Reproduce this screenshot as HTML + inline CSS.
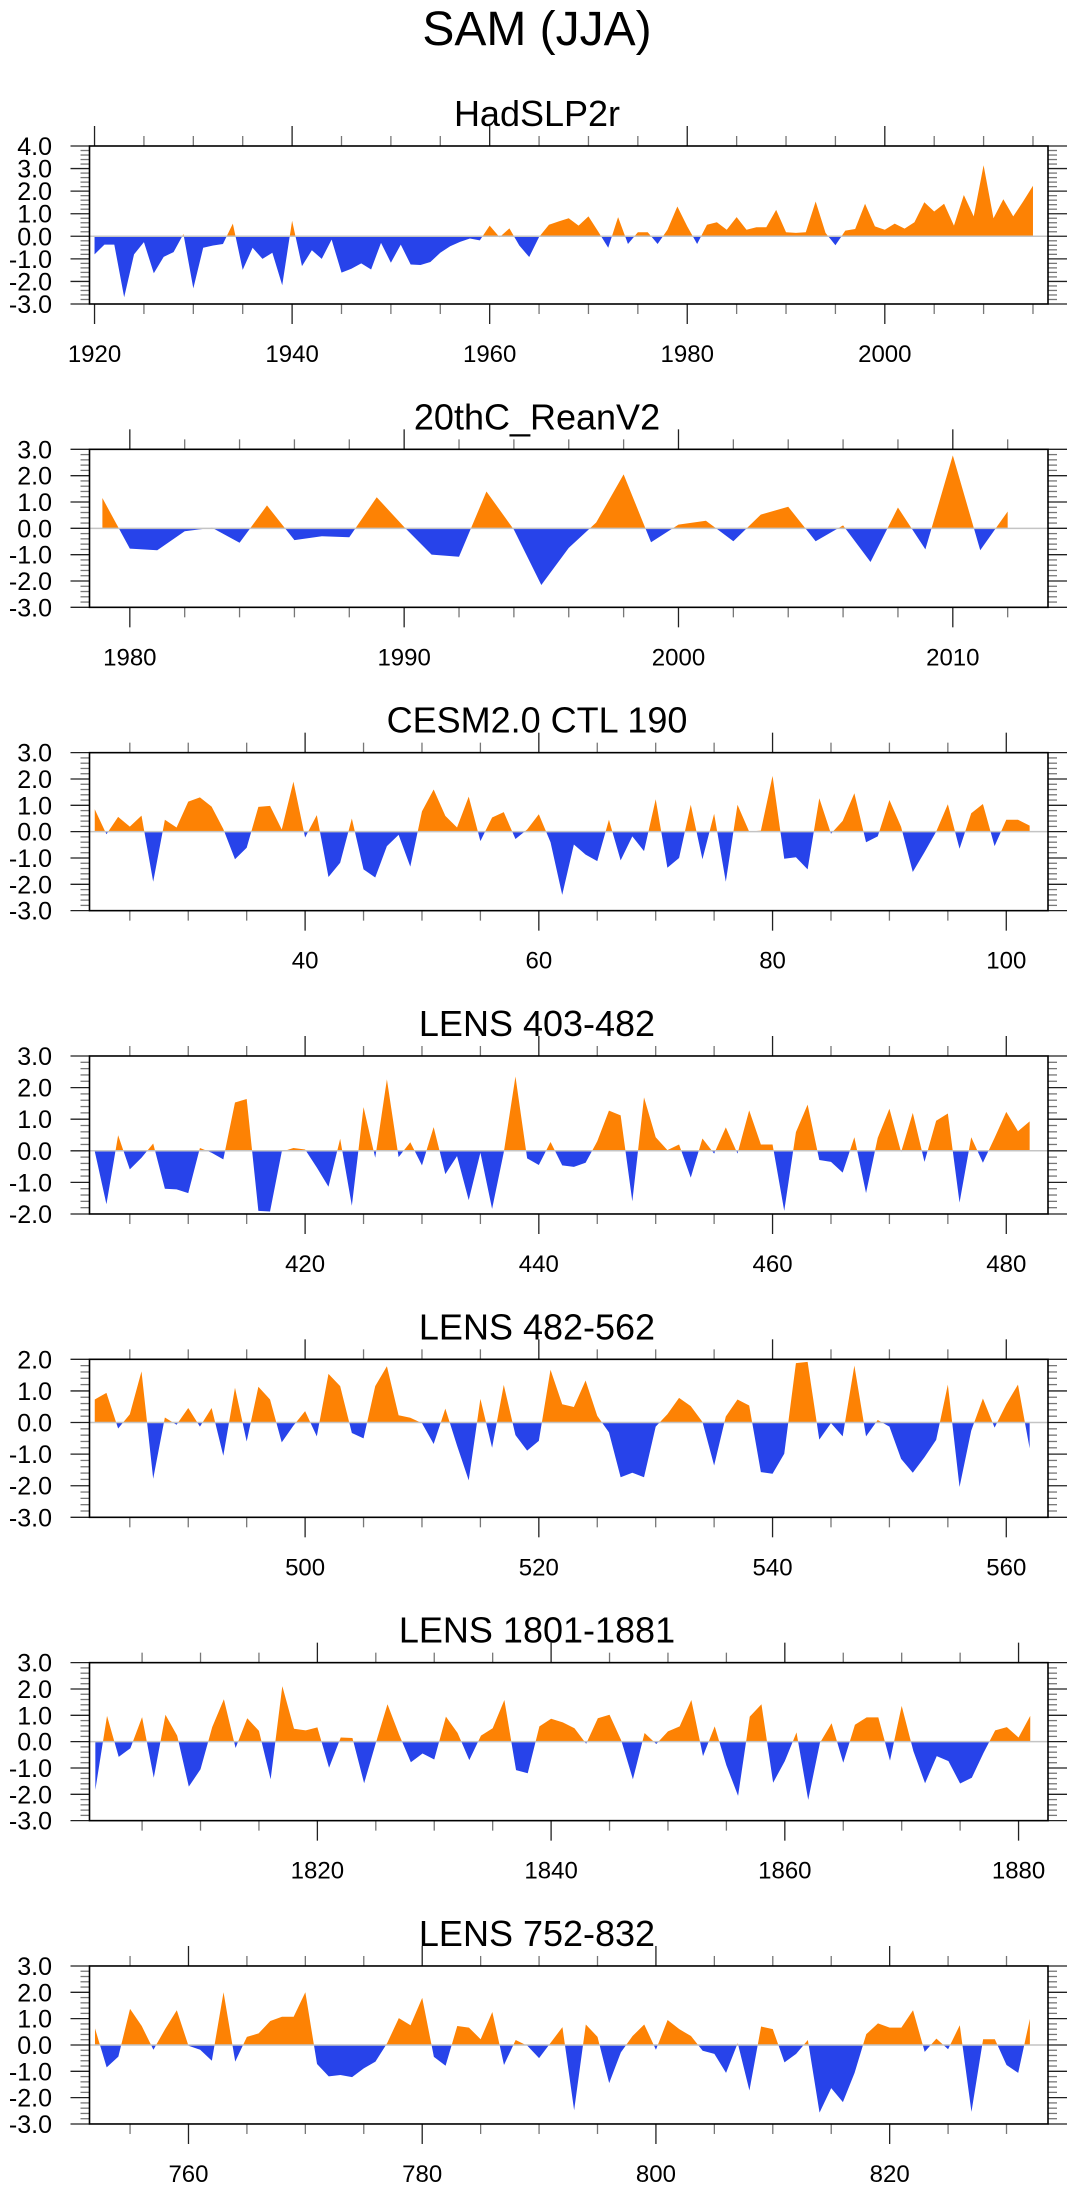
<!DOCTYPE html>
<html><head><meta charset="utf-8"><title>SAM (JJA)</title>
<style>
html,body{margin:0;padding:0;background:#fff;}
svg{display:block;font-family:"Liberation Sans",Arial,sans-serif;}
</style></head>
<body>
<svg id="chart" width="1075" height="2191" viewBox="0 0 1075 2191" xmlns="http://www.w3.org/2000/svg">
<text x="537" y="45" font-size="48" text-anchor="middle" fill="#000">SAM (JJA)</text>
</svg>
<script>
// ---- data ----
const panelTitles = ["HadSLP2r","20thC_ReanV2","CESM2.0 CTL 190","LENS 403-482","LENS 482-562","LENS 1801-1881","LENS 752-832"];
const startYears = [1920, 1979, 22, 402, 482, 1801, 752];
const xDomains = [[1919.49,2016.52],[1978.53,2013.47],[21.55,103.57],[401.55,483.57],[481.55,563.57],[1800.5,1882.52],[751.53,833.55]];
const yDomains = [[-3,4],[-3,3],[-3,3],[-2,3],[-3,2],[-3,3],[-3,3]];
const xMajorTicks = [[1920,1940,1960,1980,2000],[1980,1990,2000,2010],[40,60,80,100],[420,440,460,480],[500,520,540,560],[1820,1840,1860,1880],[760,780,800,820]];
const xMinorSteps = [5,2,5,5,5,5,5];

const hadslpValues = [-0.8,-0.37,-0.37,-2.7,-0.8,-0.26,-1.64,-0.91,-0.7,0.1,-2.31,-0.51,-0.41,-0.34,0.56,-1.49,-0.51,-1.0,-0.73,-2.17,
0.69,-1.32,-0.62,-1.0,-0.15,-1.61,-1.44,-1.2,-1.47,-0.29,-1.17,-0.37,-1.25,-1.27,-1.14,-0.73,-0.44,-0.25,-0.1,-0.18,
0.47,-0.04,0.35,-0.41,-0.92,-0.03,0.51,0.66,0.8,0.47,0.88,0.2,-0.51,0.85,-0.34,0.18,0.18,-0.34,0.29,1.32,
0.44,-0.34,0.51,0.62,0.29,0.85,0.29,0.4,0.4,1.17,0.18,0.15,0.18,1.54,0.15,-0.4,0.25,0.32,1.44,0.44,
0.29,0.56,0.34,0.62,1.51,1.1,1.44,0.47,1.83,0.88,3.15,0.8,1.64,0.88,1.54,2.24];
const reanValues = [1.15,-0.77,-0.83,-0.11,0.02,-0.55,0.87,-0.45,-0.3,-0.34,1.18,0.05,-1.0,-1.08,1.4,-0.05,-2.15,-0.74,0.22,2.05,
-0.53,0.14,0.29,-0.49,0.52,0.82,-0.49,0.11,-1.28,0.79,-0.8,2.77,-0.83,0.64];
const cesmValues = [0.85,-0.1,0.56,0.19,0.61,-1.9,0.45,0.16,1.14,1.3,0.95,0.1,-1.05,-0.61,0.94,0.98,0.08,1.9,-0.22,0.63,
-1.72,-1.18,0.5,-1.43,-1.74,-0.55,-0.12,-1.33,0.77,1.6,0.6,0.16,1.33,-0.36,0.54,0.74,-0.28,0.08,0.66,-0.4,
-2.4,-0.49,-0.87,-1.12,0.45,-1.09,-0.18,-0.74,1.23,-1.37,-1.0,1.02,-1.05,0.68,-1.9,1.02,0,0.04,2.12,-1.03,
-0.97,-1.43,1.27,-0.08,0.41,1.46,-0.4,-0.18,1.2,0.18,-1.53,-0.78,0,1.04,-0.65,0.7,1.05,-0.55,0.45,0.45,0.23];
const lens403Values = [-0.02,-1.69,0.49,-0.59,-0.22,0.23,-1.2,-1.22,-1.34,0.09,-0.06,-0.27,1.53,1.64,-1.9,-1.92,-0.03,0.09,0.04,-0.53,
-1.14,0.38,-1.74,1.38,-0.22,2.26,-0.2,0.27,-0.46,0.75,-0.74,-0.17,-1.56,-0.06,-1.84,-0.05,2.35,-0.24,-0.45,0.28,
-0.46,-0.51,-0.38,0.3,1.27,1.12,-1.6,1.69,0.43,0.02,0.2,-0.85,0.39,-0.09,0.74,-0.09,1.28,0.2,0.2,-1.9,
0.59,1.46,-0.29,-0.35,-0.69,0.43,-1.34,0.41,1.33,-0.04,1.2,-0.35,0.95,1.18,-1.64,0.43,-0.38,0.41,1.23,0.62,0.93];
const lens482Values = [0.73,0.94,-0.19,0.26,1.62,-1.78,0.16,-0.07,0.46,-0.13,0.46,-1.05,1.1,-0.6,1.13,0.73,-0.63,-0.1,0.36,-0.44,
1.54,1.15,-0.33,-0.5,1.15,1.78,0.23,0.15,-0.02,-0.68,0.44,-0.73,-1.83,0.75,-0.8,1.19,-0.4,-0.89,-0.58,1.67,
0.58,0.49,1.33,0.21,-0.31,-1.73,-1.59,-1.73,-0.13,0.26,0.78,0.52,0.02,-1.36,0.19,0.73,0.54,-1.57,-1.62,-0.99,
1.88,1.92,-0.54,-0.02,-0.44,1.8,-0.44,0.08,-0.13,-1.15,-1.59,-1.1,-0.55,1.2,-2.04,-0.26,0.76,-0.16,0.58,1.2,-0.82];
const lens1801Values = [-1.83,0.98,-0.58,-0.25,0.93,-1.37,1.02,0.23,-1.71,-1.05,0.55,1.61,-0.24,0.89,0.41,-1.43,2.11,0.49,0.43,0.54,
-0.99,0.16,0.14,-1.58,-0.05,1.42,0.26,-0.78,-0.45,-0.68,0.95,0.33,-0.7,0.23,0.51,1.58,-1.08,-1.2,0.58,0.87,
0.73,0.51,-0.08,0.89,1.02,0.05,-1.43,0.33,-0.09,0.39,0.58,1.58,-0.55,0.58,-0.9,-2.06,0.95,1.42,-1.56,-0.74,
0.35,-2.21,-0.05,0.7,-0.8,0.64,0.92,0.92,-0.72,1.36,-0.36,-1.58,-0.55,-0.74,-1.59,-1.37,-0.43,0.43,0.55,0.16,0.98];
const lens752Values = [0.63,-0.85,-0.44,1.37,0.72,-0.18,0.6,1.32,-0.03,-0.18,-0.6,2.0,-0.63,0.31,0.44,0.91,1.07,1.07,2.0,-0.72,
-1.19,-1.14,-1.22,-0.89,-0.63,0.07,1.02,0.75,1.79,-0.45,-0.79,0.72,0.66,0.22,1.25,-0.76,0.19,-0.03,-0.5,0.09,
0.68,-2.48,0.78,0.31,-1.45,-0.28,0.34,0.78,-0.18,0.95,0.6,0.34,-0.22,-0.34,-1.06,0.07,-1.73,0.7,0.6,-0.66,
-0.34,0.19,-2.57,-1.64,-2.17,-1.06,0.41,0.82,0.66,0.66,1.32,-0.26,0.24,-0.16,0.75,-2.54,0.22,0.22,-0.76,-1.06,0.99];
const seriesValues = [hadslpValues, reanValues, cesmValues, lens403Values, lens482Values, lens1801Values, lens752Values];

// ---- drawing ----
const NS = "http://www.w3.org/2000/svg";
const svg = document.getElementById("chart");
const FL = 89.5, FR = 1048, FH = 158, TOP0 = 146, STEP = 303.33;
const BLUE = "#2743ea", ORANGE = "#fd8204";

function mk(tag, attrs, parent) {
  const e = document.createElementNS(NS, tag);
  for (const k in attrs) e.setAttribute(k, attrs[k]);
  (parent || svg).appendChild(e);
  return e;
}

seriesValues.forEach(function (vals, p) {
  const T = TOP0 + p * STEP, B = T + FH;
  const xd = xDomains[p], yd = yDomains[p];
  const xs = function (v) { return FL + (v - xd[0]) / (xd[1] - xd[0]) * (FR - FL); };
  const ys = function (v) { return B - (v - yd[0]) / (yd[1] - yd[0]) * FH; };
  const g = mk("g", {});
  
  

  const title = mk("text", {x: 537, y: T - 20, "font-size": 36, "text-anchor": "middle"}, g);
  
  
  title.textContent = panelTitles[p];

  const y0 = ys(0);
  const pts = [];
  pts.push(xs(startYears[p]).toFixed(2) + "," + y0.toFixed(2));
  vals.forEach(function (v, i) { pts.push(xs(startYears[p] + i).toFixed(2) + "," + ys(v).toFixed(2)); });
  pts.push(xs(startYears[p] + vals.length - 1).toFixed(2) + "," + y0.toFixed(2));
  const cidA = "ca" + p, cidB = "cb" + p;
  const defs = mk("defs", {}, g);
  const c1 = mk("clipPath", {id: cidA}, defs);
  mk("rect", {x: FL, y: T, width: FR - FL, height: y0 - T}, c1);
  const c2 = mk("clipPath", {id: cidB}, defs);
  mk("rect", {x: FL, y: y0, width: FR - FL, height: B - y0}, c2);
  const pa = mk("polygon", {points: pts.join(" "), fill: ORANGE, "clip-path": "url(#" + cidA + ")"}, g);
  
  
  const pb = mk("polygon", {points: pts.join(" "), fill: BLUE, "clip-path": "url(#" + cidB + ")"}, g);
  
  

  const zl = mk("line", {x1: FL, x2: FR, y1: y0, y2: y0, stroke: "#c4c4c4", "stroke-width": 1.5}, g);
  
  

  // y ticks
  for (let k = Math.round(yd[0] * 5); k <= Math.round(yd[1] * 5); k++) {
    const v = k / 5, y = ys(v), major = (k % 5 === 0);
    const len = major ? 19 : 9, col = major ? "#222" : "#777";
    mk("line", {x1: FL - len, x2: FL, y1: y, y2: y, stroke: col, "stroke-width": 1.3}, g);
    mk("line", {x1: FR, x2: FR + len, y1: y, y2: y, stroke: col, "stroke-width": 1.3}, g);
    if (major) {
      const t = mk("text", {x: 52, y: y + 9, "font-size": 25, "text-anchor": "end"}, g);
      
      
      t.textContent = v.toFixed(1);
    }
  }
  // x ticks
  const step = xMinorSteps[p];
  const majors = xMajorTicks[p];
  for (let v = Math.ceil(xd[0] / step) * step; v <= xd[1]; v += step) {
    const x = xs(v), major = majors.indexOf(v) >= 0;
    const len = major ? 20 : 10, col = major ? "#222" : "#777";
    mk("line", {x1: x, x2: x, y1: T - len, y2: T, stroke: col, "stroke-width": 1.3}, g);
    mk("line", {x1: x, x2: x, y1: B, y2: B + len, stroke: col, "stroke-width": 1.3}, g);
  }
  majors.forEach(function (v) {
    const t = mk("text", {x: xs(v), y: B + 58, "font-size": 24, "text-anchor": "middle"}, g);
    
    
    t.textContent = v;
  });

  const fr = mk("rect", {x: FL, y: T, width: FR - FL, height: FH, fill: "none", stroke: "#000", "stroke-width": 1.6}, g);
  
  
});
</script>
</body></html>
